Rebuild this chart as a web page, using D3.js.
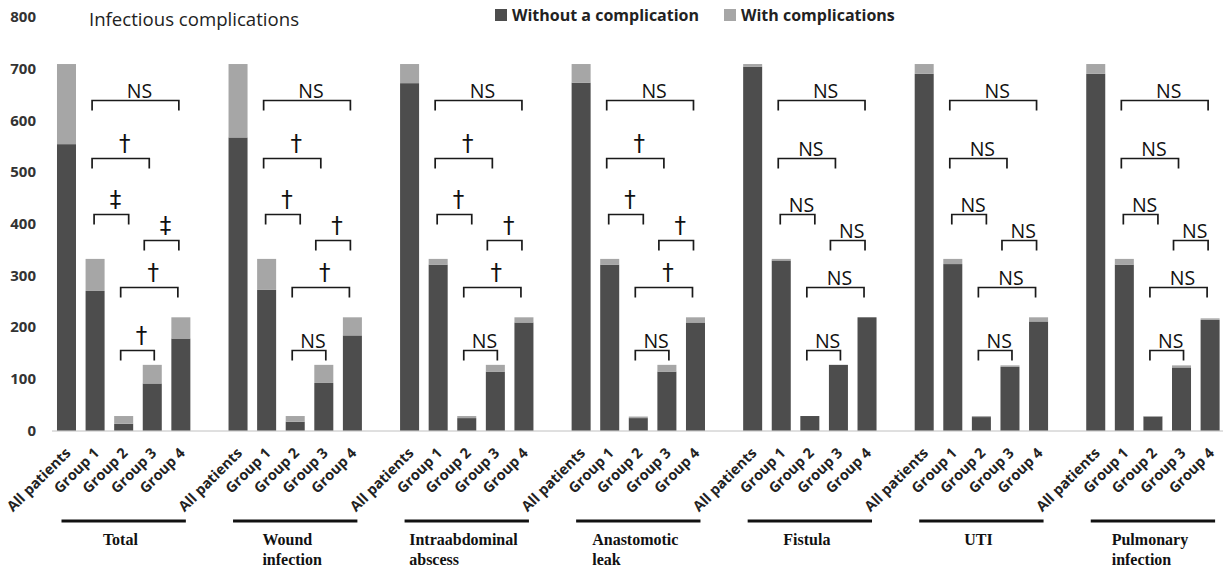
<!DOCTYPE html>
<html><head><meta charset="utf-8">
<script src="https://cdn.jsdelivr.net/npm/d3@7"></script>
<style>
html,body{margin:0;padding:0;background:#fff;}
svg{display:block;}
</style></head>
<body>
<svg id="chart" width="1223" height="571"></svg>
<script>
// ---------- DATA ----------
const complications = ["Total","Wound infection","Intraabdominal abscess","Anastomotic leak","Fistula","UTI","Pulmonary infection"];
const complicationLines = [["Total"],["Wound","infection"],["Intraabdominal","abscess"],["Anastomotic","leak"],["Fistula"],["UTI"],["Pulmonary","infection"]];
const groups = ["All patients","Group 1","Group 2","Group 3","Group 4"];
const seriesNames = ["Without a complication","With complications"];
// patients without the complication
const withoutComplication = [
  [554,270,13,91,178],
  [567,272,17,92,184],
  [672,321,24,114,209],
  [673,321,24,114,209],
  [704,329,28,127,219],
  [690,322,26,123,211],
  [690,321,27,122,214]
];
// patients with the complication
const withComplications = [
  [155,62,15,36,41],
  [142,60,11,35,35],
  [37,11,4,13,10],
  [36,11,3,13,10],
  [5,3,0,0,0],
  [19,10,2,3,8],
  [19,11,1,4,3]
];
const yTicks = [0,100,200,300,400,500,600,700,800];
// significance brackets: group pairs, bracket heights (value units), marks per complication
const bracketPairs = [[1,4],[1,3],[1,2],[3,4],[2,4],[2,3]];
const bracketLevels = [640,528,419,368,278,156];
const bracketMarks = [
  ["NS","†","‡","‡","†","†"],
  ["NS","†","†","†","†","NS"],
  ["NS","†","†","†","†","NS"],
  ["NS","†","†","†","†","NS"],
  ["NS","NS","NS","NS","NS","NS"],
  ["NS","NS","NS","NS","NS","NS"],
  ["NS","NS","NS","NS","NS","NS"]
];
const titleText = "Infectious complications";

// ---------- STYLE ----------
const DARK = "#4d4d4d", LIGHT = "#a6a6a6";
const svg = d3.select("#chart");
const nSlots = complications.length * (groups.length + 1) - 1;
const x = d3.scaleBand().domain(d3.range(nSlots)).range([52.2, 1224.4]).paddingInner(0.335).paddingOuter(0.1675);
const y = d3.scaleLinear().domain([0, 800]).range([430.5, 17]);
const slot = (g, i) => g * (groups.length + 1) + i;
const cx = (g, i) => x(slot(g, i)) + x.bandwidth() / 2;

// rows
const rows = [];
complications.forEach((c, g) => groups.forEach((grp, i) => {
  rows.push({g, i, without: withoutComplication[g][i], with: withComplications[g][i]});
}));
const stack = d3.stack().keys(["without","with"])(rows);

// baseline
svg.append("line").attr("x1", 52).attr("x2", 1223).attr("y1", y(0)+0.5).attr("y2", y(0)+0.5)
  .attr("stroke", "#c0c0c0").attr("stroke-width", 1);

// bars
svg.append("g").selectAll("g").data(stack).join("g")
  .attr("fill", (d, k) => k === 0 ? DARK : LIGHT)
  .selectAll("rect").data(d => d).join("rect")
  .attr("x", d => x(slot(d.data.g, d.data.i)))
  .attr("width", x.bandwidth())
  .attr("y", d => y(d[1]))
  .attr("height", d => y(d[0]) - y(d[1]));

// y axis (labels only)
const yAxis = d3.axisLeft(y).tickValues(yTicks).tickSize(0).tickPadding(0);
const ya = svg.append("g").attr("transform", "translate(36,0)").call(yAxis);
ya.select(".domain").remove();
ya.selectAll("text").attr("font-family", "'Open Sans', sans-serif").attr("font-weight", "bold")
  .attr("font-size", 15).attr("fill", "#333");

// x labels (rotated)
const xl = svg.append("g");
complications.forEach((c, g) => groups.forEach((grp, i) => {
  xl.append("text")
    .attr("transform", `translate(${cx(g, i) + 5},${454}) rotate(-45)`)
    .attr("text-anchor", "end")
    .attr("font-family", "'Open Sans', sans-serif").attr("font-weight", "bold")
    .attr("font-size", 14.5).attr("fill", "#222")
    .text(grp);
}));

// brackets
const leftOff = [-3,-3,-1,-8,-3,-3];
const rightOff = [-2,-3,5,-2,-3,2];
const br = svg.append("g");
complications.forEach((c, g) => {
  bracketPairs.forEach((p, k) => {
    const x1 = cx(g, p[0]) + leftOff[k], x2 = cx(g, p[1]) + rightOff[k];
    const yy = Math.round(y(bracketLevels[k])) + 0.5;
    br.append("path")
      .attr("d", `M${x1},${yy + 10}V${yy}H${x2}V${yy + 10}`)
      .attr("fill", "none").attr("stroke", "#1a1a1a").attr("stroke-width", 1.7);
    const m = bracketMarks[g][k];
    const isNS = m === "NS";
    br.append("text")
      .attr("x", (x1 + x2) / 2 + 4)
      .attr("y", isNS ? yy - 3 : yy - 8)
      .attr("text-anchor", "middle")
      .attr("font-family", isNS ? "'Open Sans', sans-serif" : "'DejaVu Sans', sans-serif")
      .attr("font-weight", "normal")
      .attr("font-size", isNS ? 19.5 : 23).attr("fill", "#111")
      .text(m);
  });
});

// category underlines & labels
const cat = svg.append("g");
complications.forEach((c, g) => {
  const x1 = cx(g, 0) - 5, x2 = cx(g, 4) + 5;
  cat.append("line").attr("x1", x1).attr("x2", x2).attr("y1", 521).attr("y2", 521)
    .attr("stroke", "#111").attr("stroke-width", 3);
  const t = cat.append("text")
    .attr("font-family", "'Liberation Serif', 'Times New Roman', serif").attr("font-weight", "bold")
    .attr("font-size", 16).attr("fill", "#111");
  complicationLines[g].forEach((ln, j) => {
    t.append("tspan").attr("x", 0).attr("y", 545 + j * 20).text(ln);
  });
  const w = t.node().getBBox().width;
  t.attr("transform", `translate(${(x1 + x2) / 2 - 3 - w / 2},0)`);
});

// title
svg.append("text").attr("x", 89).attr("y", 26)
  .attr("font-family", "'Open Sans', sans-serif").attr("font-size", 19).attr("fill", "#222")
  .attr("textLength", 210).attr("lengthAdjust", "spacingAndGlyphs")
  .text(titleText);

// legend
const lg = svg.append("g");
const legendX = [495, 724];
seriesNames.forEach((s, k) => {
  lg.append("rect").attr("x", legendX[k]).attr("y", 9).attr("width", 12).attr("height", 12)
    .attr("fill", k === 0 ? DARK : LIGHT);
  lg.append("text").attr("x", legendX[k] + 17).attr("y", 21)
    .attr("font-family", "'Open Sans', sans-serif").attr("font-weight", "bold")
    .attr("font-size", 16).attr("fill", "#222")
    .text(s);
});
</script>
</body></html>
